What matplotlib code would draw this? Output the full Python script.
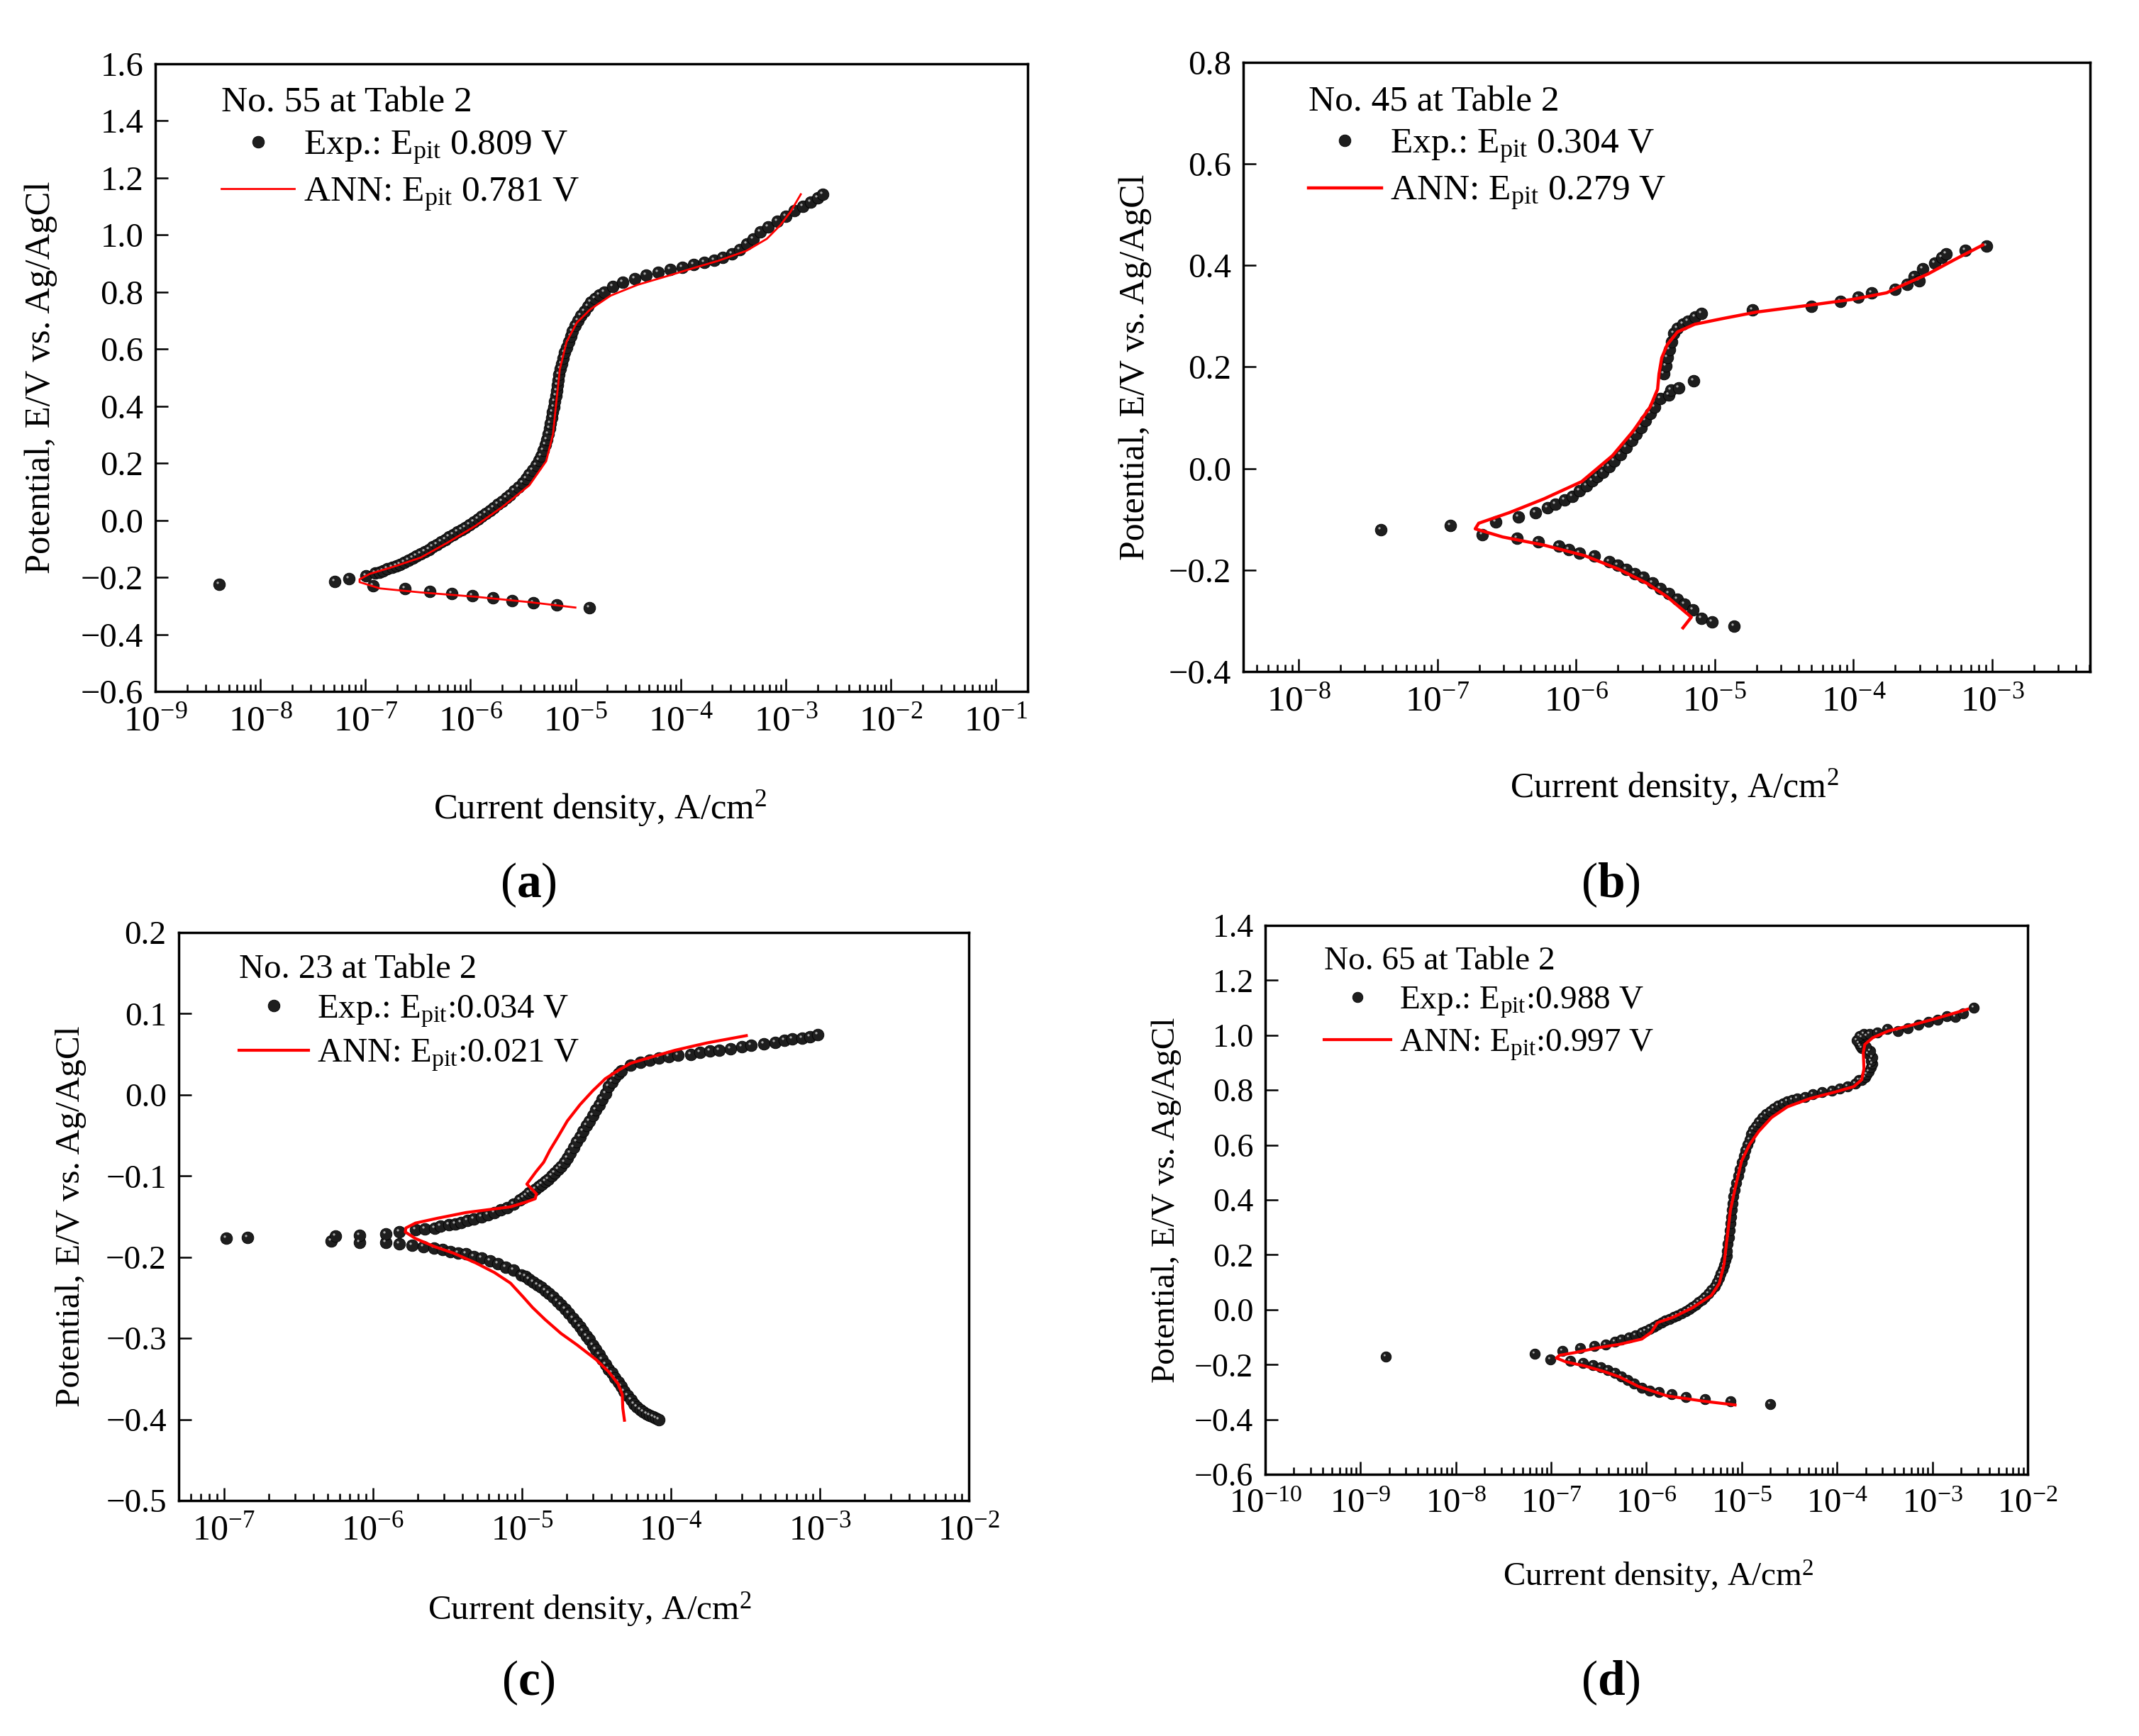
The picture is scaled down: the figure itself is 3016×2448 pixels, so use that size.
import numpy as np
import matplotlib
matplotlib.use("Agg")
import matplotlib.pyplot as plt
from matplotlib.path import Path
from matplotlib.ticker import LogLocator, NullFormatter, FuncFormatter, MultipleLocator

plt.rcParams["font.family"] = ["Liberation Serif", "DejaVu Serif"]
plt.rcParams["mathtext.fontset"] = "custom"
plt.rcParams["mathtext.rm"] = "Liberation Serif"
plt.rcParams["mathtext.it"] = "Liberation Serif:italic"
plt.rcParams["mathtext.bf"] = "Liberation Serif:bold"

# ---------------------------------------------------------------
# data: (log10 current density [A/cm2], potential [V])
# ---------------------------------------------------------------
a_exp = [
    (-8.393, -0.224), (-7.295, -0.215), (-7.159, -0.205), (-6.998, -0.196),
    (-6.927, -0.230), (-6.623, -0.239), (-6.391, -0.249), (-6.177, -0.258), (-5.983, -0.264),
    (-5.790, -0.273), (-5.602, -0.283), (-5.402, -0.290), (-5.183, -0.296), (-4.866, -0.306),
    (-6.907, -0.186), (-6.868, -0.182), (-6.830, -0.177), (-6.791, -0.171), (-6.746, -0.165),
    (-6.707, -0.159), (-6.668, -0.154), (-6.629, -0.148), (-6.591, -0.140), (-6.552, -0.133),
    (-6.513, -0.125), (-6.474, -0.117), (-6.436, -0.110), (-6.397, -0.102), (-6.358, -0.093),
    (-6.319, -0.085), (-6.281, -0.076), (-6.242, -0.068), (-6.203, -0.059), (-6.164, -0.051),
    (-6.126, -0.042), (-6.087, -0.034), (-6.048, -0.025), (-6.009, -0.015), (-5.971, -0.006),
    (-5.932, 0.004), (-5.893, 0.013), (-5.854, 0.023), (-5.816, 0.034), (-5.777, 0.044),
    (-5.738, 0.055), (-5.699, 0.067), (-5.661, 0.078), (-5.622, 0.089), (-5.583, 0.103),
    (-5.544, 0.116), (-5.506, 0.131), (-5.473, 0.145), (-5.441, 0.160), (-5.409, 0.175),
    (-5.376, 0.192), (-5.351, 0.209), (-5.325, 0.226), (-5.305, 0.245), (-5.286, 0.264),
    (-5.273, 0.283), (-5.260, 0.302), (-5.247, 0.321), (-5.241, 0.340), (-5.228, 0.359),
    (-5.221, 0.378), (-5.208, 0.397), (-5.202, 0.416), (-5.189, 0.435), (-5.183, 0.454),
    (-5.176, 0.473), (-5.163, 0.492), (-5.157, 0.511), (-5.144, 0.530), (-5.131, 0.549),
    (-5.118, 0.568), (-5.105, 0.587), (-5.086, 0.606), (-5.066, 0.625), (-5.047, 0.644),
    (-5.028, 0.663), (-5.002, 0.682), (-4.976, 0.699), (-4.950, 0.716), (-4.918, 0.733),
    (-4.886, 0.749), (-4.853, 0.764), (-4.814, 0.777), (-4.776, 0.788), (-4.730, 0.800),
    (-4.647, 0.819), (-4.550, 0.834), (-4.440, 0.847), (-4.330, 0.859), (-4.214, 0.868),
    (-4.098, 0.878), (-3.988, 0.887), (-3.878, 0.895), (-3.775, 0.903), (-3.684, 0.910),
    (-3.600, 0.920), (-3.516, 0.933), (-3.439, 0.948), (-3.374, 0.967), (-3.309, 0.986),
    (-3.245, 1.009), (-3.168, 1.028), (-3.084, 1.047), (-3.000, 1.066), (-2.922, 1.085),
    (-2.838, 1.100), (-2.761, 1.115), (-2.696, 1.129), (-2.651, 1.142),
]
a_ann = [
    (-5.002, -0.306), (-5.441, -0.287), (-5.958, -0.268), (-6.474, -0.253), (-6.862, -0.239),
    (-7.056, -0.217), (-7.056, -0.207), (-6.959, -0.188), (-6.733, -0.163), (-6.474, -0.131),
    (-6.216, -0.078), (-5.958, -0.021), (-5.699, 0.046), (-5.441, 0.122), (-5.280, 0.207),
    (-5.215, 0.302), (-5.183, 0.416), (-5.150, 0.530), (-5.086, 0.625), (-4.989, 0.692),
    (-4.860, 0.739), (-4.666, 0.787), (-4.408, 0.825), (-4.149, 0.853), (-3.891, 0.882),
    (-3.633, 0.910), (-3.374, 0.944), (-3.180, 0.986), (-3.051, 1.034), (-2.954, 1.081),
    (-2.857, 1.142),
]

b_exp = [
    (-7.409, -0.121), (-6.905, -0.113),
    (-6.678, -0.130), (-6.425, -0.137), (-6.272, -0.144), (-6.124, -0.153), (-6.050, -0.160),
    (-5.975, -0.167), (-5.867, -0.173), (-5.763, -0.183), (-5.698, -0.191), (-5.639, -0.199),
    (-5.575, -0.208), (-5.516, -0.215), (-5.451, -0.226), (-5.392, -0.237), (-5.333, -0.247),
    (-5.268, -0.258), (-5.219, -0.267), (-5.155, -0.279), (-5.095, -0.295), (-5.021, -0.303),
    (-4.863, -0.311),
    (-6.579, -0.105), (-6.416, -0.096), (-6.292, -0.087), (-6.208, -0.078), (-6.149, -0.071),
    (-6.084, -0.062), (-6.025, -0.055), (-5.975, -0.044), (-5.926, -0.034), (-5.886, -0.025),
    (-5.847, -0.016), (-5.807, -0.007), (-5.763, 0.004), (-5.723, 0.015), (-5.679, 0.027),
    (-5.639, 0.041), (-5.599, 0.055), (-5.565, 0.068), (-5.530, 0.081), (-5.501, 0.095),
    (-5.466, 0.109), (-5.431, 0.121), (-5.392, 0.137), (-5.333, 0.145), (-5.318, 0.155),
    (-5.258, 0.158), (-5.150, 0.172), (-5.367, 0.186), (-5.352, 0.202), (-5.342, 0.218),
    (-5.327, 0.234), (-5.312, 0.250), (-5.293, 0.266), (-5.268, 0.276), (-5.229, 0.284),
    (-5.194, 0.290), (-5.144, 0.298), (-5.095, 0.305), (-4.729, 0.312), (-4.304, 0.319),
    (-4.096, 0.329), (-3.968, 0.337), (-3.869, 0.346), (-3.701, 0.353), (-3.611, 0.362),
    (-3.562, 0.378), (-3.528, 0.370), (-3.503, 0.394), (-3.414, 0.405), (-3.364, 0.415),
    (-3.330, 0.423), (-3.196, 0.429), (-3.038, 0.438),
]
b_ann = [
    (-5.229, -0.314), (-5.169, -0.293), (-5.342, -0.253), (-5.491, -0.226), (-5.688, -0.199),
    (-5.936, -0.172), (-6.232, -0.151), (-6.529, -0.135), (-6.727, -0.119), (-6.702, -0.108),
    (-6.480, -0.087), (-6.232, -0.060), (-5.960, -0.026), (-5.738, 0.025), (-5.590, 0.073),
    (-5.466, 0.121), (-5.412, 0.156), (-5.402, 0.186), (-5.382, 0.218), (-5.342, 0.244),
    (-5.268, 0.269), (-5.144, 0.284), (-4.947, 0.295), (-4.699, 0.308), (-4.304, 0.322),
    (-4.007, 0.333), (-3.760, 0.346), (-3.636, 0.362), (-3.463, 0.383), (-3.266, 0.412),
    (-3.068, 0.440),
]

c_exp = [
    (-6.982, -0.177), (-6.840, -0.176),
    (-6.280, -0.180), (-6.089, -0.182), (-5.911, -0.182), (-5.820, -0.184), (-5.735, -0.185),
    (-5.661, -0.187), (-5.587, -0.189), (-5.533, -0.191), (-5.480, -0.193), (-5.427, -0.195),
    (-5.374, -0.196), (-5.321, -0.199), (-5.268, -0.201), (-5.215, -0.205), (-5.161, -0.208),
    (-5.108, -0.212), (-5.055, -0.216), (-5.002, -0.222), (-4.974, -0.224), (-4.949, -0.227),
    (-4.923, -0.231), (-4.896, -0.234), (-4.868, -0.237), (-4.843, -0.241), (-4.817, -0.245),
    (-4.790, -0.249), (-4.761, -0.254), (-4.737, -0.259), (-4.710, -0.264), (-4.683, -0.269),
    (-4.655, -0.275), (-4.630, -0.281), (-4.608, -0.286), (-4.588, -0.291), (-4.566, -0.297),
    (-4.545, -0.302), (-4.523, -0.309), (-4.503, -0.314), (-4.481, -0.320), (-4.460, -0.326),
    (-4.438, -0.332), (-4.418, -0.338), (-4.396, -0.343), (-4.375, -0.349), (-4.353, -0.354),
    (-4.333, -0.359), (-4.311, -0.365), (-4.290, -0.371), (-4.268, -0.376), (-4.248, -0.381),
    (-4.226, -0.385), (-4.205, -0.388), (-4.183, -0.391), (-4.163, -0.393), (-4.141, -0.395),
    (-4.120, -0.397), (-4.098, -0.399), (-4.081, -0.400),
    (-6.253, -0.174), (-6.089, -0.173), (-5.911, -0.171), (-5.820, -0.169), (-5.714, -0.166),
    (-5.650, -0.165), (-5.586, -0.164), (-5.544, -0.162), (-5.491, -0.160), (-5.448, -0.159),
    (-5.406, -0.157), (-5.363, -0.155), (-5.321, -0.153), (-5.268, -0.150), (-5.225, -0.148),
    (-5.183, -0.145), (-5.140, -0.142), (-5.098, -0.139), (-5.055, -0.135), (-5.013, -0.129),
    (-4.991, -0.127), (-4.970, -0.124), (-4.949, -0.121), (-4.928, -0.119), (-4.906, -0.116),
    (-4.885, -0.113), (-4.864, -0.110), (-4.843, -0.107), (-4.821, -0.104), (-4.800, -0.100),
    (-4.779, -0.096), (-4.758, -0.092), (-4.736, -0.088), (-4.715, -0.083), (-4.693, -0.078),
    (-4.673, -0.072), (-4.651, -0.065), (-4.630, -0.058), (-4.608, -0.052), (-4.588, -0.045),
    (-4.566, -0.038), (-4.545, -0.032), (-4.523, -0.025), (-4.503, -0.018), (-4.481, -0.012),
    (-4.460, -0.005), (-4.438, 0.002), (-4.418, 0.010), (-4.396, 0.016), (-4.375, 0.022),
    (-4.353, 0.026), (-4.333, 0.030), (-4.269, 0.037), (-4.205, 0.040), (-4.141, 0.043),
    (-4.078, 0.045), (-4.014, 0.047), (-3.950, 0.049), (-3.865, 0.050), (-3.802, 0.052),
    (-3.738, 0.054), (-3.674, 0.055), (-3.600, 0.057), (-3.525, 0.059), (-3.461, 0.061),
    (-3.376, 0.063), (-3.301, 0.065), (-3.237, 0.067), (-3.184, 0.069), (-3.120, 0.070),
    (-3.067, 0.072), (-3.014, 0.074),
]
c_ann = [
    (-3.493, 0.073), (-3.758, 0.064), (-3.971, 0.055), (-4.141, 0.046), (-4.269, 0.039),
    (-4.354, 0.030), (-4.439, 0.020), (-4.524, 0.005), (-4.609, -0.012), (-4.694, -0.032),
    (-4.758, -0.052), (-4.811, -0.068), (-4.853, -0.083), (-4.906, -0.095), (-4.966, -0.110),
    (-4.939, -0.115), (-4.902, -0.122), (-4.910, -0.128), (-4.970, -0.132), (-5.076, -0.138),
    (-5.204, -0.141), (-5.374, -0.145), (-5.565, -0.152), (-5.714, -0.158), (-5.778, -0.164),
    (-5.782, -0.169), (-5.714, -0.177), (-5.586, -0.187), (-5.459, -0.195), (-5.310, -0.207),
    (-5.183, -0.219), (-5.076, -0.232), (-4.991, -0.249), (-4.928, -0.262), (-4.843, -0.277),
    (-4.737, -0.294), (-4.630, -0.308), (-4.503, -0.326), (-4.418, -0.341), (-4.354, -0.356),
    (-4.326, -0.369), (-4.322, -0.386), (-4.311, -0.401),
]

d_exp = [
    (-8.732, -0.171), (-7.171, -0.161), (-7.011, -0.181),
    (-6.796, -0.186), (-6.663, -0.193), (-6.563, -0.201), (-6.480, -0.209), (-6.407, -0.219),
    (-6.331, -0.230), (-6.264, -0.242), (-6.198, -0.255), (-6.131, -0.270), (-6.048, -0.285),
    (-5.965, -0.294), (-5.866, -0.301), (-5.733, -0.309), (-5.583, -0.317), (-5.384, -0.327),
    (-5.118, -0.334), (-4.703, -0.344),
    (-6.885, -0.151), (-6.696, -0.141), (-6.546, -0.133), (-6.430, -0.126), (-6.331, -0.116),
    (-6.264, -0.109), (-6.181, -0.102), (-6.115, -0.094), (-6.048, -0.084), (-6.008, -0.077),
    (-5.965, -0.070), (-5.922, -0.062), (-5.882, -0.054), (-5.842, -0.047), (-5.799, -0.040),
    (-5.756, -0.034), (-5.716, -0.027), (-5.676, -0.020), (-5.633, -0.013), (-5.590, -0.005),
    (-5.550, 0.002), (-5.517, 0.010), (-5.484, 0.019), (-5.450, 0.027), (-5.417, 0.037),
    (-5.384, 0.047), (-5.351, 0.059), (-5.318, 0.072), (-5.284, 0.086), (-5.258, 0.101),
    (-5.235, 0.116), (-5.218, 0.131), (-5.201, 0.146), (-5.185, 0.163), (-5.168, 0.180),
    (-5.158, 0.197), (-5.152, 0.215), (-5.145, 0.240), (-5.135, 0.264), (-5.125, 0.289),
    (-5.118, 0.314), (-5.112, 0.339), (-5.102, 0.363), (-5.095, 0.388), (-5.085, 0.413),
    (-5.072, 0.437), (-5.059, 0.462), (-5.039, 0.487), (-5.019, 0.512), (-4.999, 0.536),
    (-4.979, 0.561), (-4.959, 0.581), (-4.936, 0.601), (-4.919, 0.620), (-4.903, 0.640),
    (-4.879, 0.655), (-4.853, 0.670), (-4.819, 0.685), (-4.786, 0.700), (-4.746, 0.712),
    (-4.703, 0.724), (-4.660, 0.734), (-4.620, 0.744), (-4.570, 0.752), (-4.521, 0.759),
    (-4.471, 0.764), (-4.421, 0.769), (-4.338, 0.776), (-4.255, 0.784), (-4.155, 0.792),
    (-4.056, 0.798), (-3.973, 0.806), (-3.890, 0.813), (-3.806, 0.823), (-3.773, 0.838),
    (-3.740, 0.838), (-3.707, 0.848), (-3.690, 0.858), (-3.664, 0.868), (-3.641, 0.883),
    (-3.631, 0.895), (-3.641, 0.907), (-3.631, 0.919), (-3.674, 0.932), (-3.651, 0.942),
    (-3.740, 0.952), (-3.697, 0.957), (-3.757, 0.962), (-3.773, 0.971), (-3.790, 0.981),
    (-3.740, 0.991), (-3.764, 0.996), (-3.690, 0.998), (-3.717, 1.004), (-3.657, 1.006),
    (-3.574, 1.011), (-3.474, 1.024), (-3.358, 1.014), (-3.259, 1.026), (-3.142, 1.038),
    (-3.043, 1.048), (-2.943, 1.056), (-2.844, 1.070), (-2.760, 1.067), (-2.677, 1.080),
    (-2.561, 1.100),
]
d_ann = [
    (-5.069, -0.347), (-5.384, -0.334), (-5.783, -0.314), (-6.081, -0.280), (-6.281, -0.245),
    (-6.447, -0.225), (-6.646, -0.205), (-6.845, -0.190), (-6.945, -0.176), (-6.912, -0.166),
    (-6.746, -0.156), (-6.513, -0.139), (-6.281, -0.126), (-6.048, -0.107), (-5.949, -0.082),
    (-5.882, -0.047), (-5.716, -0.027), (-5.517, 0.007), (-5.318, 0.052), (-5.235, 0.096),
    (-5.185, 0.166), (-5.152, 0.264), (-5.118, 0.363), (-5.069, 0.442), (-5.002, 0.541),
    (-4.919, 0.601), (-4.820, 0.650), (-4.687, 0.700), (-4.521, 0.739), (-4.288, 0.769),
    (-4.022, 0.793), (-3.823, 0.813), (-3.740, 0.838), (-3.717, 0.878), (-3.724, 0.937),
    (-3.707, 0.967), (-3.624, 0.991), (-3.458, 1.016), (-3.225, 1.036), (-2.960, 1.061),
    (-2.628, 1.095),
]

titles = ["No. 55 at Table 2", "No. 45 at Table 2", "No. 23 at Table 2", "No. 65 at Table 2"]
exp_labels = ["Exp.: E$_{\\mathrm{pit}}$ 0.809 V", "Exp.: E$_{\\mathrm{pit}}$ 0.304 V",
              "Exp.: E$_{\\mathrm{pit}}$:0.034 V", "Exp.: E$_{\\mathrm{pit}}$:0.988 V"]
ann_labels = ["ANN: E$_{\\mathrm{pit}}$ 0.781 V", "ANN: E$_{\\mathrm{pit}}$ 0.279 V",
              "ANN: E$_{\\mathrm{pit}}$:0.021 V", "ANN: E$_{\\mathrm{pit}}$:0.997 V"]
panel_tags = ["a", "b", "c", "d"]

# little shiny spot on top of every sphere marker
_spot = Path.circle(center=(-0.3, 0.32), radius=0.2)
shine = Path(np.vstack([[1.0, 1.0], _spot.vertices]),
             np.concatenate([[Path.MOVETO], _spot.codes]))


def minus_fmt(v, pos):
    v = round(v, 6)
    if abs(v) < 1e-9:
        v = 0.0
    return f"{v:.1f}".replace("-", "\u2212")


def draw_panel(fig, rect, exp, ann, title, lab_exp, lab_ann, xlim, ylim, ystep,
               ms, lw, tick_fs, lab_fs, leg_fs, leg_anchor, ylab_x, xlab_xy):
    ax = fig.add_axes(rect)
    li, e = np.asarray(exp).T
    h_exp, = ax.plot(10.0 ** li, e, ls="none", marker="o", ms=ms, mfc="#1e1e1e",
                     mec="#000000", mew=0.6, label=lab_exp, zorder=3)
    ax.plot(10.0 ** li, e, ls="none", marker=shine, ms=ms, mfc="#a8a8a8",
            mec="none", zorder=3.1)
    li, e = np.asarray(ann).T
    h_ann, = ax.plot(10.0 ** li, e, color="#ff0000", lw=lw, label=lab_ann, zorder=4)

    ax.set_xscale("log")
    ax.set_xlim(*xlim)
    ax.set_ylim(*ylim)
    ax.xaxis.set_major_locator(LogLocator(base=10, numticks=30))
    ax.xaxis.set_minor_locator(LogLocator(base=10, subs=np.arange(2, 10), numticks=200))
    ax.xaxis.set_minor_formatter(NullFormatter())
    ax.yaxis.set_major_locator(MultipleLocator(ystep))
    ax.yaxis.set_major_formatter(FuncFormatter(minus_fmt))

    ax.tick_params(which="both", direction="in", top=False, right=False, width=1.8)
    ax.tick_params(which="major", length=13)
    ax.tick_params(which="minor", length=7, labelbottom=False)
    ax.tick_params(axis="x", which="major", labelsize=tick_fs + 2, pad=14)
    ax.tick_params(axis="y", labelsize=tick_fs, pad=12)
    for s in ax.spines.values():
        s.set_linewidth(2.5)

    ax.set_xlabel("Current density, A/cm$^{\\mathrm{2}}$", fontsize=lab_fs)
    ax.xaxis.set_label_coords(*xlab_xy)
    ax.set_ylabel("Potential, E/V vs. Ag/AgCl", fontsize=lab_fs)
    ax.yaxis.set_label_coords(ylab_x, 0.5)

    ax.legend(handles=[h_exp, h_ann], title=title, loc="upper left",
              bbox_to_anchor=leg_anchor, frameon=False, fontsize=leg_fs,
              title_fontsize=leg_fs, handlelength=2.0, handletextpad=0.25,
              labelspacing=0.26, borderpad=0, borderaxespad=0,
              alignment="left", numpoints=1)
    return ax


fig = plt.figure(figsize=(30.16, 24.48), dpi=100, facecolor="white")

draw_panel(fig, [0.0726, 0.6017, 0.4078, 0.3617], a_exp, a_ann, titles[0],
           exp_labels[0], ann_labels[0], (1e-9, 0.2), (-0.6, 1.6), 0.2,
           ms=12, lw=2.0, tick_fs=35, lab_fs=36.5, leg_fs=37,
           leg_anchor=(0.076, 0.963), ylab_x=-0.112, xlab_xy=(0.51, -0.155))
draw_panel(fig, [0.5812, 0.6132, 0.3959, 0.3509], b_exp, b_ann, titles[1],
           exp_labels[1], ann_labels[1], (10 ** -8.4, 10 ** -2.294), (-0.4, 0.8), 0.2,
           ms=12, lw=3.2, tick_fs=35, lab_fs=36, leg_fs=37,
           leg_anchor=(0.077, 0.962), ylab_x=-0.108, xlab_xy=(0.509, -0.157))
draw_panel(fig, [0.0834, 0.1356, 0.3695, 0.3272], c_exp, c_ann, titles[2],
           exp_labels[2], ann_labels[2], (10 ** -7.305, 1e-2), (-0.5, 0.2), 0.1,
           ms=12, lw=3.0, tick_fs=34, lab_fs=35.5, leg_fs=35,
           leg_anchor=(0.077, 0.963), ylab_x=-0.116, xlab_xy=(0.52, -0.157))
draw_panel(fig, [0.5915, 0.1507, 0.3564, 0.3162], d_exp, d_ann, titles[3],
           exp_labels[3], ann_labels[3], (1e-10, 1e-2), (-0.6, 1.4), 0.2,
           ms=10.5, lw=3.0, tick_fs=33, lab_fs=34, leg_fs=34,
           leg_anchor=(0.077, 0.962), ylab_x=-0.110, xlab_xy=(0.516, -0.154))

for tag, (x, y) in zip(panel_tags, [(0.247, 0.490), (0.753, 0.490), (0.247, 0.0306), (0.753, 0.0306)]):
    fig.text(x, y, "($\\mathbf{%s}$)" % tag, ha="center", va="center", fontsize=50)

fig.savefig("out.png", dpi=100, facecolor="white")
